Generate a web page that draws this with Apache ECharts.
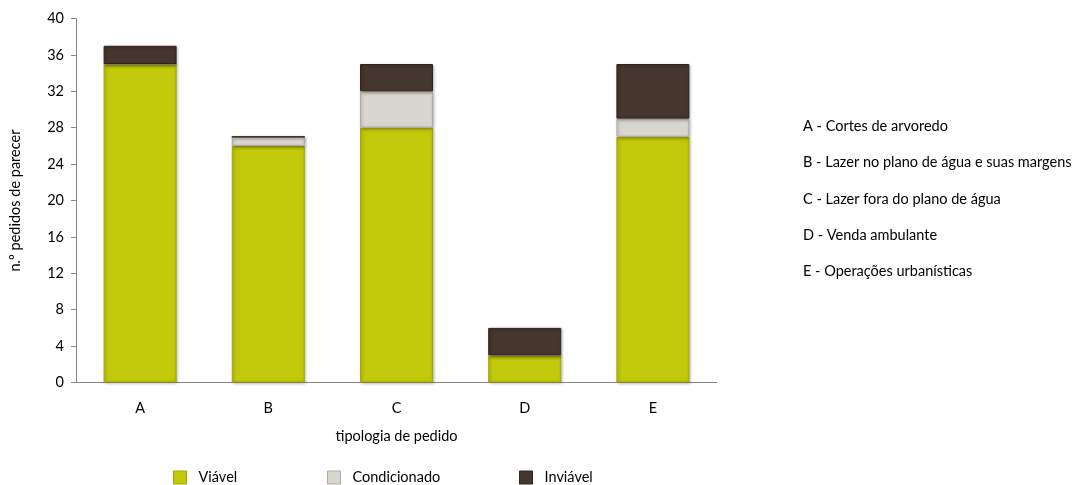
<!DOCTYPE html>
<html><head><meta charset="utf-8">
<script src="https://cdn.jsdelivr.net/npm/echarts@6/dist/echarts.min.js"></script>
<style>html,body{margin:0;padding:0;background:#fff}#c{width:1078px;height:485px}</style>
</head><body><div id="c"></div>
<script>
const categories = ['A','B','C','D','E'];
const viavel = [35, 26, 28, 3, 27];
const condicionado = [0, 1, 4, 0, 2];
const inviavel = [2, 0, 3, 3, 6];
const yTicks = [0,4,8,12,16,20,24,28,32,36,40];
const notes = ['A - Cortes de arvoredo','B - Lazer no plano de água e suas margens','C - Lazer fora do plano de água','D - Venda ambulante','E - Operações urbanísticas'];

const FONT = 'Lato';
const FS = 14.5;
const COLORS = {'Viável':'#C2C80A','Condicionado':'#D9D6D0','Inviável':'#45362E'};
const BORDERS = {'Viável':'#A3A808','Condicionado':'#AEABA6','Inviável':'#2F241F'};
const chart = echarts.init(document.getElementById('c'));
const mk = (name, data) => ({
  name, type:'bar', stack:'s', data, barWidth:73,
  itemStyle:{color:COLORS[name], borderColor:BORDERS[name], borderWidth:1, shadowColor:'rgba(0,0,0,0.3)', shadowBlur:3, shadowOffsetX:1, shadowOffsetY:1},
  emphasis:{disabled:true}
});
const legendAt = (name, left) => ({
  left, top:470, padding:0, itemWidth:13, itemHeight:13, icon:'rect', itemGap:0,
  textStyle:{fontFamily:FONT, fontSize:FS, color:'#000', padding:[0,0,0,7]},
  data:[{name, itemStyle:{color:COLORS[name], borderColor:BORDERS[name], borderWidth:1}}]
});
chart.setOption({
  animation:false,
  textStyle:{fontFamily:FONT},
  grid:{left:75, right:361, top:18.5, bottom:102.5},
  legend:[legendAt('Viável',173), legendAt('Condicionado',327), legendAt('Inviável',519)],
  xAxis:{
    type:'category', data:categories, name:'tipologia de pedido', nameLocation:'middle', nameGap:46,
    nameTextStyle:{fontFamily:FONT,fontSize:FS,color:'#000'},
    axisLine:{lineStyle:{color:'#868686'}}, axisTick:{length:5,lineStyle:{color:'#868686'}},
    axisLabel:{fontFamily:FONT,fontSize:FS,color:'#000',margin:18}
  },
  yAxis:{
    type:'value', min:yTicks[0], max:yTicks[yTicks.length-1], interval:4,
    name:'n.º pedidos de parecer', nameLocation:'middle', nameGap:53, nameRotate:90,
    nameTextStyle:{fontFamily:FONT,fontSize:FS,color:'#000'},
    axisLine:{show:true,lineStyle:{color:'#868686'}}, axisTick:{show:true,length:5,lineStyle:{color:'#868686'}},
    splitLine:{show:false},
    axisLabel:{fontFamily:FONT,fontSize:FS,color:'#000',margin:12}
  },
  graphic: notes.map((t,i)=>({type:'text', left:803, top:119+i*36.2, style:{text:t, font:'14.5px Lato', fill:'#000'}})),
  series:[ mk('Viável', viavel), mk('Condicionado', condicionado), mk('Inviável', inviavel) ]
});
</script></body></html>
